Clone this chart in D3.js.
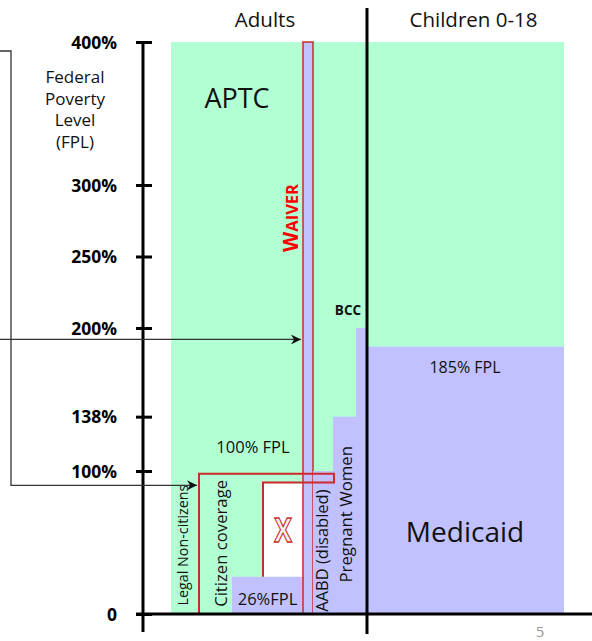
<!DOCTYPE html>
<html>
<head>
<meta charset="utf-8">
<script src="https://cdn.jsdelivr.net/npm/d3@7.9.0/dist/d3.min.js"></script>
<style>
  body { margin: 0; background: #fff; }
  svg { display: block; font-family: "Open Sans", sans-serif; }
</style>
</head>
<body>
<svg id="chart" width="592" height="641"></svg>
<script>
// FPL ticks on the left axis
const fplTicks = [0, 100, 138, 200, 250, 300, 400];
const tickLabels = ["0", "100%", "138%", "200%", "250%", "300%", "400%"];

// horizontal layout in column units (schematic, not to scale)
const columns = ["Adults", "Children 0-18"];
const columnSpan = [[0, 196], [196, 393]];

// APTC (premium tax credit) area, covers everything up to 400%
const aptcSpan = [0, 393];
const aptcTop = 400;

// Medicaid blocks: name, x-span (units), top FPL
const medicaidNames = ["26%FPL", "Waiver", "AABD (disabled)", "Pregnant Women", "BCC", "Children"];
const medicaidSpans = [[61, 132], [132, 142], [142, 162], [162, 196], [185, 196], [196, 393]];
const medicaidTops = [26, 400, 100, 138, 200, 187];

// coverage gap (white) between 26% and ~92% for citizens
const gapSpan = [92, 132];
const gapRange = [26, 92];

// citizen coverage outline (units, FPL)
const citizenOutline = [[28, 0], [28, 98], [163, 98], [163, 92], [92, 92], [92, 26]];

// vertical labels inside the adult area
const verticalLabels = ["Legal Non-citizens", "Citizen coverage", "AABD (disabled)", "Pregnant Women"];
const verticalX = [12, 51, 152, 176];
const verticalBase = [6, 5, 1.5, 22];
const verticalSize = [14.3, 16.7, 16.5, 16.8];

// arrow levels (FPL) from the left bracket
const arrowLevels = [192, 90];

const svg = d3.select("#chart");
const green = "#b2ffd3";
const lav = "#c1c1ff";
const red = "#cc2b2b";

const y = d3.scaleLinear().domain([0, 400]).range([614, 42]);
const x = d3.scaleLinear().domain([0, 393]).range([171, 564]);

// APTC background
svg.append("rect")
  .attr("x", x(aptcSpan[0])).attr("width", x(aptcSpan[1]) - x(aptcSpan[0]))
  .attr("y", y(aptcTop)).attr("height", y(0) - y(aptcTop))
  .attr("fill", green);

// coverage gap
svg.append("rect")
  .attr("x", x(gapSpan[0])).attr("width", x(gapSpan[1]) - x(gapSpan[0]))
  .attr("y", y(gapRange[1])).attr("height", y(gapRange[0]) - y(gapRange[1]))
  .attr("fill", "#fff");

// medicaid blocks
svg.selectAll("rect.mcd")
  .data(medicaidNames.map((n, i) => ({ name: n, span: medicaidSpans[i], top: medicaidTops[i] })))
  .enter().append("rect")
  .attr("class", "mcd")
  .attr("x", d => x(d.span[0])).attr("width", d => x(d.span[1]) - x(d.span[0]))
  .attr("y", d => y(d.top)).attr("height", d => y(0) - y(d.top))
  .attr("fill", lav)
  .attr("stroke", d => d.name === "Waiver" ? red : "none")
  .attr("stroke-width", 1.5);

// citizen coverage outline
svg.append("path")
  .attr("d", d3.line().x(d => x(d[0])).y(d => y(d[1]))(citizenOutline))
  .attr("fill", "none").attr("stroke", red).attr("stroke-width", 2);

// the X in the gap
svg.append("text")
  .attr("transform", `translate(${x((gapSpan[0] + gapSpan[1]) / 2)},${y((gapRange[0] + gapRange[1]) / 2) + 12}) scale(0.78,1)`)
  .attr("text-anchor", "middle")
  .attr("font-size", 34).attr("font-weight", "bold")
  .attr("fill", "#f2f2f2").attr("stroke", red).attr("stroke-width", 1.3)
  .text("X");

// divider between adults and children
svg.append("line")
  .attr("x1", x(columnSpan[1][0])).attr("x2", x(columnSpan[1][0]))
  .attr("y1", 8).attr("y2", 634)
  .attr("stroke", "#000").attr("stroke-width", 3);

// baseline
svg.append("line")
  .attr("x1", 136).attr("x2", 592).attr("y1", y(0)).attr("y2", y(0))
  .attr("stroke", "#000").attr("stroke-width", 3);

// y axis
const axis = svg.append("g").attr("transform", "translate(143,0)")
  .call(d3.axisLeft(y).tickValues(fplTicks).tickFormat((d, i) => tickLabels[i]).tickSize(0));
axis.select(".domain").remove();
axis.append("line").attr("y1", y(400)).attr("y2", 632).attr("stroke", "#000").attr("stroke-width", 3);
axis.selectAll(".tick").append("line")
  .attr("x1", -7).attr("x2", 9).attr("stroke", "#000").attr("stroke-width", 3);
axis.selectAll(".tick text")
  .attr("x", -26).attr("dy", "0.36em")
  .attr("font-family", "Open Sans").attr("font-size", 17.5).attr("font-weight", "bold")
  .attr("fill", "#000");

// axis title
svg.append("text").attr("text-anchor", "middle").attr("font-size", 17).attr("fill", "#111")
  .selectAll("tspan").data(["Federal", "Poverty", "Level", "(FPL)"]).enter().append("tspan")
  .attr("x", 75).attr("y", (d, i) => 83 + i * 21.5).text(d => d);

// column headers
svg.selectAll("text.col").data(columns).enter().append("text")
  .attr("class", "col")
  .attr("x", (d, i) => i === 0 ? 265 : x((columnSpan[i][0] + columnSpan[i][1]) / 2) + 8)
  .attr("y", 27).attr("text-anchor", "middle").attr("font-size", 20.5).attr("fill", "#111")
  .text(d => d);

// big labels
svg.append("text").attr("x", 237).attr("y", 108).attr("text-anchor", "middle")
  .attr("font-size", 27).attr("fill", "#111").text("APTC");
svg.append("text").attr("x", x(294)).attr("y", 542).attr("text-anchor", "middle")
  .attr("font-size", 28).attr("fill", "#111").text("Medicaid");
svg.append("text").attr("x", x(294)).attr("y", 373).attr("text-anchor", "middle")
  .attr("font-size", 16).attr("fill", "#111").text(medicaidTops[5] - 2 + "% FPL");
svg.append("text").attr("x", 253).attr("y", 453).attr("text-anchor", "middle")
  .attr("font-size", 16.5).attr("fill", "#111").text("100% FPL");
svg.append("text").attr("x", x(96.5)).attr("y", 605).attr("text-anchor", "middle")
  .attr("font-size", 16.5).attr("fill", "#111").text(medicaidNames[0]);
svg.append("text").attr("x", 348).attr("y", 315).attr("text-anchor", "middle")
  .attr("font-size", 13.5).attr("font-weight", "bold").attr("fill", "#111").text(medicaidNames[4]);

// WAIVER in small caps
const w = svg.append("text")
  .attr("transform", `translate(${x(132) - 5},218) rotate(-90)`)
  .attr("text-anchor", "middle").attr("font-weight", "bold").attr("fill", "#f00");
w.append("tspan").attr("font-size", 21).text("W");
w.append("tspan").attr("font-size", 16.5).text("AIVER");

// vertical labels
svg.selectAll("text.vert").data(verticalLabels).enter().append("text")
  .attr("class", "vert")
  .attr("transform", (d, i) => `translate(${x(verticalX[i]) + 5},${y(verticalBase[i])}) rotate(-90)`)
  .attr("font-size", (d, i) => verticalSize[i]).attr("fill", "#111")
  .text(d => d);

// arrows from the left bracket
const defs = svg.append("defs");
defs.append("marker").attr("id", "arr").attr("viewBox", "0 0 10 10")
  .attr("refX", 10).attr("refY", 5).attr("markerWidth", 10).attr("markerHeight", 10)
  .attr("markerUnits", "userSpaceOnUse").attr("orient", "auto")
  .append("path").attr("d", "M0,0 L10,5 L0,10 L3,5 Z").attr("fill", "#111");

svg.append("path")
  .attr("d", `M0,51 H11 V${y(arrowLevels[1])} H${x(28) - 2}`)
  .attr("fill", "none").attr("stroke", "#333").attr("stroke-width", 1.3)
  .attr("marker-end", "url(#arr)");
svg.append("path")
  .attr("d", `M0,${y(arrowLevels[0])} H${x(132) - 2}`)
  .attr("fill", "none").attr("stroke", "#333").attr("stroke-width", 1.3)
  .attr("marker-end", "url(#arr)");

// page number
svg.append("text").attr("x", 540).attr("y", 637).attr("text-anchor", "middle")
  .attr("font-size", 15).attr("fill", "#999").text("5");
</script>
</body>
</html>
